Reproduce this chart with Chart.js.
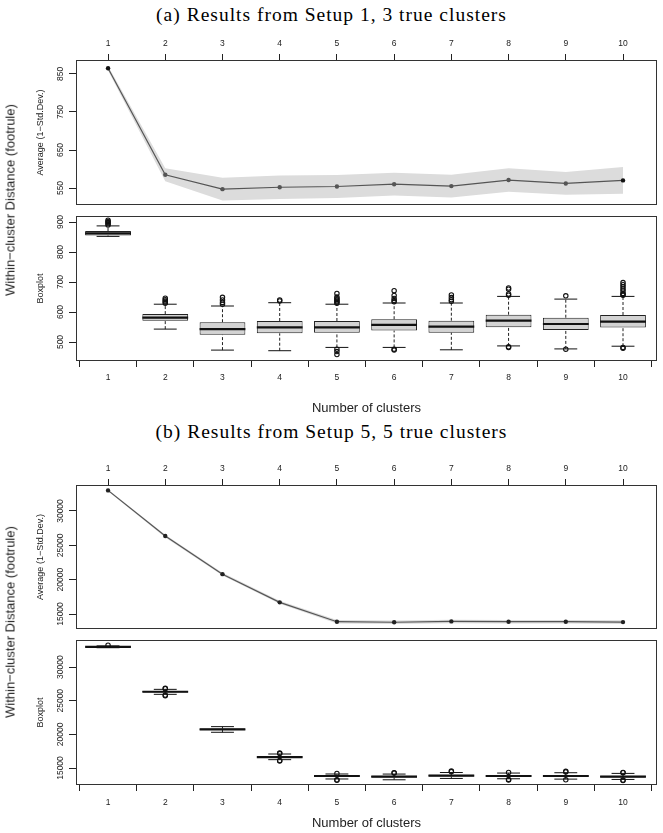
<!DOCTYPE html>
<html>
<head>
<meta charset="utf-8">
<script src="https://cdn.jsdelivr.net/npm/chart.js@4.4.1/dist/chart.umd.min.js"></script>
<style>
body { margin: 0; background: #fff; }
#pagina { position: relative; width: 663px; height: 833px; overflow: hidden; font-family: "Liberation Sans", Arial, sans-serif; }
.panel { position: absolute; left: 0; width: 663px; }
.titulo { position: absolute; left: 0; width: 663px; text-align: center; font-family: "Liberation Serif", serif; font-size: 19.5px; line-height: 19px; letter-spacing: 1px; color: #000; }
.etiqueta { position: absolute; left: 10px; font-size: 13px; line-height: 13px; color: #222; white-space: nowrap; transform: translate(-50%, -50%) rotate(-90deg); }
</style>
</head>
<body>
<div id="pagina">
  <div class="titulo" style="top:5px">(a) Results from Setup 1, 3 true clusters</div>
  <div class="panel" style="top:30px;height:180px"><canvas id="promedio_a"></canvas></div>
  <div class="panel" style="top:210px;height:210px"><canvas id="caja_a"></canvas></div>
  <div class="etiqueta" style="top:200px">Within−cluster Distance (footrule)</div>

  <div class="titulo" style="top:422px">(b) Results from Setup 5, 5 true clusters</div>
  <div class="panel" style="top:420px;height:215px"><canvas id="promedio_b"></canvas></div>
  <div class="panel" style="top:635px;height:198px"><canvas id="caja_b"></canvas></div>
  <div class="etiqueta" style="top:622px">Within−cluster Distance (footrule)</div>
</div>
<script>
var clusters = [1, 2, 3, 4, 5, 6, 7, 8, 9, 10];

// (a) Setup 1, 3 clusters
var promedioA = [865, 585, 547, 552, 554, 560, 555, 571, 562, 570];
var desvA = [6, 17, 30, 31, 30, 30, 30, 31, 30, 35];
var ticksPromA = [550, 650, 750, 850];
var q1A = [855, 571, 524, 529, 531, 538, 531, 549, 540, 548];
var medA = [862, 581, 543, 549, 549, 557, 551, 571, 560, 568];
var q3A = [870, 593, 566, 570, 570, 576, 571, 591, 581, 590];
var bigoteInfA = [852, 543, 473, 471, 482, 482, 474, 487, 477, 486];
var bigoteSupA = [887, 626, 620, 631, 626, 630, 630, 652, 643, 652];
var atipicosA = [
    [890, 894, 898, 902, 906],
    [629, 633, 637, 641, 646],
    [626, 632, 640, 649],
    [637, 640],
    [629, 633, 637, 641, 645, 650, 662, 476, 468, 458],
    [634, 638, 645, 655, 671, 476, 473],
    [636, 641, 648, 657],
    [656, 660, 676, 680, 484, 482],
    [654, 476],
    [656, 659, 662, 670, 677, 684, 691, 698, 482, 479]
];
var ticksCajaA = [500, 600, 700, 800, 900];

// (b) Setup 5, 5 clusters
var promedioB = [33000, 26350, 20800, 16700, 13880, 13800, 13920, 13880, 13880, 13820];
var desvB = [120, 200, 200, 220, 250, 250, 260, 250, 250, 260];
var ticksPromB = [15000, 20000, 25000, 30000];
var q1B = [32950, 26230, 20650, 16520, 13700, 13580, 13720, 13680, 13680, 13590];
var medB = [33010, 26335, 20755, 16630, 13810, 13710, 13860, 13810, 13810, 13720];
var q3B = [33070, 26440, 20860, 16750, 13920, 13850, 13990, 13950, 13950, 13860];
var bigoteInfB = [32880, 25950, 20310, 16240, 13370, 13250, 13450, 13400, 13350, 13300];
var bigoteSupB = [33150, 26690, 21150, 17080, 14110, 14100, 14330, 14250, 14300, 14200];
var atipicosB = [
    [33260],
    [26780, 26850, 25850, 25750],
    [],
    [17220, 17150, 16100, 16050],
    [14200, 13250, 13180],
    [14250, 14300],
    [14450, 14550],
    [14350, 13300, 13200],
    [14420, 14500, 13250],
    [14300, 14350, 13200, 13150]
];
var ticksCajaB = [15000, 20000, 25000, 30000];

var fuente = '"Liberation Sans", Arial, sans-serif';
Chart.defaults.font.family = fuente;
Chart.defaults.animation = false;

// marco del grafico, como box() en R
var marco = {
    id: 'marco',
    afterDraw: function (chart) {
        var a = chart.chartArea;
        var ctx = chart.ctx;
        ctx.save();
        ctx.strokeStyle = '#333';
        ctx.lineWidth = 1;
        ctx.strokeRect(Math.round(a.left) + 0.5, Math.round(a.top) + 0.5,
            Math.round(a.right - a.left) - 1, Math.round(a.bottom - a.top) - 1);
        ctx.restore();
    }
};

// etiquetas del eje y giradas (las=0 en R)
var etiquetas_y = {
    id: 'etiquetas_y',
    afterDraw: function (chart) {
        var s = chart.scales.y;
        var ctx = chart.ctx;
        ctx.save();
        ctx.font = '8.5px ' + fuente;
        ctx.fillStyle = '#222';
        ctx.textAlign = 'center';
        ctx.textBaseline = 'middle';
        s.ticks.forEach(t => {
            var y = s.getPixelForValue(t.value);
            ctx.save();
            ctx.translate(chart.chartArea.left - 15, y);
            ctx.rotate(-Math.PI / 2);
            ctx.fillText(String(t.value), 0, 0);
            ctx.restore();
        });
        ctx.restore();
    }
};

var eje_x = function (posicion, alto, pad, titulo, padTitulo) {
    return {
        type: 'linear',
        position: posicion,
        min: 0.44,
        max: 10.594,
        offset: false,
        afterBuildTicks: function (s) { s.ticks = clusters.map(v => ({ value: v })); },
        afterFit: function (s) { s.height = alto; },
        grid: { drawOnChartArea: false, drawTicks: true, tickLength: 6, color: '#222' },
        border: { display: false },
        ticks: { font: { size: 8.5 }, color: '#222', padding: pad, maxRotation: 0, minRotation: 0, autoSkip: false },
        title: {
            display: !!titulo,
            text: titulo || '',
            font: { size: 13 },
            color: '#222',
            padding: { top: 0, bottom: padTitulo || 0 }
        }
    };
};

var eje_y = function (min, max, marcas, titulo) {
    return {
        type: 'linear',
        position: 'left',
        min: min,
        max: max,
        afterBuildTicks: function (s) { s.ticks = marcas.map(v => ({ value: v })); },
        afterFit: function (s) { s.width = 76; },
        grid: { drawOnChartArea: false, drawTicks: true, tickLength: 7, color: '#222' },
        border: { display: false },
        ticks: { display: false },
        title: {
            display: true,
            text: titulo,
            font: { size: 9 },
            color: '#222',
            padding: { top: 35.6, bottom: 0 }
        }
    };
};

var grafico_promedio = function (id, promedio, desv, ejeY, padding, colorPunto) {
    var arriba = [];
    var abajo = [];
    var media = [];
    clusters.forEach((c, i) => {
        arriba.push({ x: c, y: promedio[i] + desv[i] });
        abajo.push({ x: c, y: promedio[i] - desv[i] });
        media.push({ x: c, y: promedio[i] });
    });
    return new Chart(document.getElementById(id), {
        type: 'line',
        data: {
            datasets: [
                { data: arriba, borderWidth: 0, pointRadius: 0, fill: '+1', backgroundColor: '#dcdcdc', tension: 0, order: 3 },
                { data: abajo, borderWidth: 0, pointRadius: 0, fill: false, tension: 0, order: 3 },
                {
                    data: media, borderColor: '#555', borderWidth: 1.2, tension: 0, fill: false,
                    pointRadius: 2.2, pointBorderWidth: 0,
                    pointBackgroundColor: colorPunto, order: 1
                }
            ]
        },
        plugins: [marco, etiquetas_y],
        options: {
            responsive: true,
            maintainAspectRatio: false,
            events: [],
            layout: { padding: padding },
            plugins: { legend: { display: false }, tooltip: { enabled: false } },
            scales: { x: eje_x('top', padding.xAlto, 5), y: ejeY }
        }
    });
};

var grafico_caja = function (id, q1, med, q3, inf, sup, atipicos, ejeY, padding, padX, padTitulo) {
    var cajas = [];
    var bigotes = [];
    var topes = [];
    var medianas = [];
    var puntos = [];
    clusters.forEach((c, i) => {
        cajas.push({ x: c, y: [q1[i], q3[i]] });
        bigotes.push({ x: c, y: inf[i] }, { x: c, y: q1[i] }, { x: c, y: null },
            { x: c, y: q3[i] }, { x: c, y: sup[i] }, { x: c, y: null });
        topes.push({ x: c - 0.2, y: inf[i] }, { x: c + 0.2, y: inf[i] }, { x: c, y: null },
            { x: c - 0.2, y: sup[i] }, { x: c + 0.2, y: sup[i] }, { x: c, y: null });
        medianas.push({ x: c - 0.4, y: med[i] }, { x: c + 0.4, y: med[i] }, { x: c, y: null });
        atipicos[i].forEach(v => puntos.push({ x: c, y: v }));
    });
    return new Chart(document.getElementById(id), {
        type: 'bar',
        data: {
            datasets: [
                {
                    type: 'bar', data: cajas, backgroundColor: '#d3d3d3', borderColor: '#222',
                    borderWidth: 1, borderSkipped: false, barPercentage: 0.8, categoryPercentage: 1, order: 5
                },
                { type: 'line', data: bigotes, borderColor: '#222', borderWidth: 1, borderDash: [3, 2], pointRadius: 0, spanGaps: false, order: 4 },
                { type: 'line', data: topes, borderColor: '#111', borderWidth: 1, pointRadius: 0, spanGaps: false, order: 3 },
                { type: 'line', data: medianas, borderColor: '#111', borderWidth: 2.2, pointRadius: 0, spanGaps: false, order: 2 },
                {
                    type: 'scatter', data: puntos, pointRadius: 2.2, pointBorderWidth: 1.1,
                    pointBorderColor: '#111', pointBackgroundColor: 'rgba(255,255,255,0)', order: 1
                }
            ]
        },
        plugins: [marco, etiquetas_y],
        options: {
            responsive: true,
            maintainAspectRatio: false,
            events: [],
            layout: { padding: padding },
            plugins: { legend: { display: false }, tooltip: { enabled: false } },
            scales: { x: eje_x('bottom', padding.xAlto, padX, 'Number of clusters', padTitulo), y: ejeY }
        }
    });
};

var colorA = clusters.map((c, i) => (i === 0 || i === clusters.length - 1) ? '#111' : '#555');
var colorB = clusters.map(c => '#222');

grafico_promedio('promedio_a', promedioA, desvA,
    eje_y(505.3, 886.8, ticksPromA, 'Average (1−Std.Dev.)'),
    { top: 0, right: 6, bottom: 5, left: 0, xAlto: 30 }, colorA);

grafico_caja('caja_a', q1A, medA, q3A, bigoteInfA, bigoteSupA, atipicosA,
    eje_y(436.7, 920, ticksCajaA, 'Boxplot'),
    { top: 6, right: 6, bottom: 0, left: 0, xAlto: 59 }, 5.5, 4.2);

grafico_promedio('promedio_b', promedioB, desvB,
    eje_y(12816, 33786, ticksPromB, 'Average (1−Std.Dev.)'),
    { top: 0, right: 6, bottom: 6, left: 0, xAlto: 65 }, colorB);

grafico_caja('caja_b', q1B, medB, q3B, bigoteInfB, bigoteSupB, atipicosB,
    eje_y(12475, 34010, ticksCajaB, 'Boxplot'),
    { top: 5, right: 6, bottom: 0, left: 0, xAlto: 48 }, 6.5, 2.2);
</script>
</body>
</html>
